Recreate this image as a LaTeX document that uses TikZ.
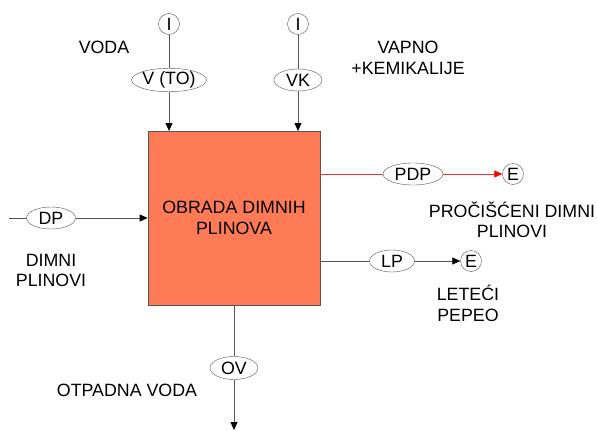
\documentclass[tikz,border=0pt]{standalone}
\usepackage{fontspec}
\setmainfont{Liberation Sans}
\usetikzlibrary{shapes.geometric,arrows.meta}
\definecolor{boxfill}{HTML}{FF7B55}
\definecolor{lngray}{HTML}{555555}
\definecolor{lnred}{HTML}{F03030}
\tikzset{
  every node/.style={font=\fontsize{17.8}{20.5}\selectfont, inner sep=0pt},
  term/.style={circle, draw=lngray, minimum size=21pt, fill=white},
  flow/.style={ellipse, draw=lngray, minimum height=22pt, fill=white},
  lbl/.style={align=center, text=black},
  conn/.style={draw=lngray, line width=0.8pt},
  arr/.style={conn, -{Triangle[length=8pt,width=7pt,color=black]}},
  mainbox/.style={rectangle, draw=lngray, fill=boxfill, minimum width=172pt, minimum height=174pt, align=center, line width=0.8pt}
}
\begin{document}
\begin{tikzpicture}[x=1pt,y=-1pt]
\useasboundingbox (0,0) rectangle (597,431);
% main box
\node[mainbox] (box) at (234,218) {OBRADA DIMNIH\\PLINOVA};
% top inputs
\node[term] (i1) at (169,24) {I};
\node[term] (i2) at (298,24) {I};
\node[flow, minimum width=75pt] (vto) at (169,80) {V (TO)};
\node[flow, minimum width=48pt] (vk) at (298,80) {VK};
\coordinate (t1) at (169,131);
\coordinate (t2) at (298,131);
\draw[conn] (i1) -- (vto);
\draw[conn] (i2) -- (vk);
\draw[arr] (vto) -- (t1);
\draw[arr] (vk) -- (t2);
% left input
\coordinate (dpstart) at (9,218);
\node[flow, minimum width=49pt] (dp) at (51,218) {DP};
\draw[conn] (dpstart) -- (dp);
\draw[arr] (dp) -- (box.west);
% right outputs
\coordinate (pdps) at (320,174);
\node[flow, minimum width=60pt] (pdp) at (413,174) {PDP};
\node[term] (e1) at (513,174) {E};
\draw[draw=lnred, line width=0.8pt] (pdps) -- (pdp);
\draw[draw=lnred, line width=0.8pt, -{Triangle[length=8pt,width=7pt,color=red]}] (pdp) -- (e1);
\coordinate (lps) at (320,261);
\node[flow, minimum width=45pt] (lp) at (392,261) {LP};
\node[term] (e2) at (471,261) {E};
\draw[conn] (lps) -- (lp);
\draw[arr] (lp) -- (e2);
% bottom output
\node[flow, minimum width=48pt, minimum height=23pt] (ov) at (234,368) {OV};
\coordinate (ovend) at (234,430);
\draw[conn] (box.south) -- (ov);
\draw[arr] (ov) -- (ovend);
% labels
\node[lbl] (lvoda) at (104,47) {VODA};
\node[lbl] (lvapno) at (408,58) {VAPNO\\+KEMIKALIJE};
\node[lbl] (ldimni) at (51,270.5) {DIMNI\\PLINOVI};
\node[lbl] (lpdp) at (512,220) {PROČIŠĆENI DIMNI\\PLINOVI};
\node[lbl] (llp) at (468,303.5) {LETEĆI\\PEPEO};
\node[lbl] (lov) at (127,390) {OTPADNA VODA};
\end{tikzpicture}
\end{document}
